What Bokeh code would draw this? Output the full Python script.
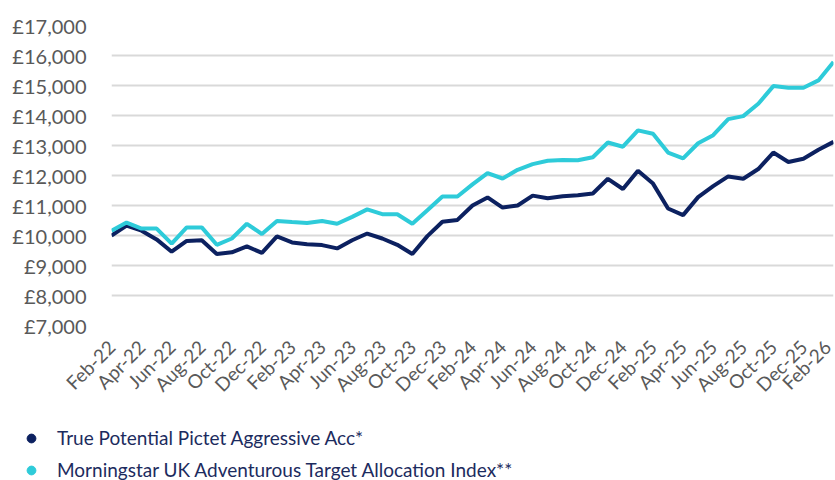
import math
from bokeh.plotting import figure
from bokeh.layouts import column
from bokeh.models import FixedTicker, Legend, LegendItem, Range1d
from bokeh.embed import file_html
from bokeh.resources import INLINE

months = ["Feb-22", "Mar-22", "Apr-22", "May-22", "Jun-22", "Jul-22", "Aug-22", "Sep-22", "Oct-22", "Nov-22", "Dec-22",
          "Jan-23", "Feb-23", "Mar-23", "Apr-23", "May-23", "Jun-23", "Jul-23", "Aug-23", "Sep-23", "Oct-23", "Nov-23", "Dec-23",
          "Jan-24", "Feb-24", "Mar-24", "Apr-24", "May-24", "Jun-24", "Jul-24", "Aug-24", "Sep-24", "Oct-24", "Nov-24", "Dec-24",
          "Jan-25", "Feb-25", "Mar-25", "Apr-25", "May-25", "Jun-25", "Jul-25", "Aug-25", "Sep-25", "Oct-25", "Nov-25", "Dec-25",
          "Jan-26", "Feb-26"]

fund = [10000, 10330, 10160, 9870, 9460, 9820, 9840, 9385, 9440, 9635, 9420, 9970, 9770, 9710, 9680, 9570, 9840,
        10065, 9900, 9690, 9385, 9980, 10460, 10520, 11000, 11270, 10930, 11000, 11330, 11240, 11310, 11340,
        11400, 11890, 11550, 12160, 11730, 10900, 10680, 11280, 11645, 11970, 11890, 12215, 12765, 12450, 12560, 12860, 13120]

benchmark = [10160, 10430, 10230, 10230, 9730, 10270, 10270, 9690, 9900, 10390, 10050, 10485, 10450, 10420, 10485, 10390, 10620,
             10870, 10710, 10710, 10390, 10840, 11300, 11300, 11705, 12080, 11900, 12190, 12380, 12490, 12520, 12510,
             12610, 13100, 12960, 13505, 13390, 12765, 12570, 13075, 13345, 13880, 13980, 14390, 14980, 14925, 14925, 15170, 15785]

series_names = ["True Potential Pictet Aggressive Acc*", "Morningstar UK Adventurous Target Allocation Index**"]
series_colors = ["#0c2160", "#2ecbd9"]

y_ticks = [7000, 8000, 9000, 10000, 11000, 12000, 13000, 14000, 15000, 16000, 17000]
y_tick_labels = ["£7,000", "£8,000", "£9,000", "£10,000", "£11,000", "£12,000", "£13,000", "£14,000", "£15,000", "£16,000", "£17,000"]

x = list(range(len(months)))
x_ticks = x[::2]

FONT = "Lato"

p = figure(width=835, height=406, output_backend="svg", toolbar_location=None,
           x_range=Range1d(0, len(months) - 1), y_range=Range1d(7000, 17000),
           min_border_left=111, min_border_right=2, min_border_top=25, min_border_bottom=72)
p.outline_line_color = None
p.background_fill_color = "white"
p.border_fill_color = "white"

p.xgrid.grid_line_color = None
p.ygrid.grid_line_color = "#d9d9d9"
p.ygrid.grid_line_width = 2
p.ygrid.ticker = FixedTicker(ticks=y_ticks)

p.yaxis.ticker = FixedTicker(ticks=y_ticks)
p.yaxis.major_label_overrides = {t: l for t, l in zip(y_ticks, y_tick_labels)}
p.xaxis.ticker = FixedTicker(ticks=x_ticks)
p.xaxis.major_label_overrides = {i: months[i] for i in x_ticks}
p.xaxis.major_label_orientation = math.pi / 4

for ax in (p.xaxis[0], p.yaxis[0]):
    ax.axis_line_color = None
    ax.major_tick_line_color = None
    ax.minor_tick_line_color = None
    ax.major_label_text_font = FONT
    ax.major_label_text_font_size = "19px"
    ax.major_label_text_color = "#595959"
p.yaxis.major_label_text_font_size = "20px"
p.yaxis.major_label_standoff = 19
p.xaxis.major_label_standoff = 12

p.line(x, fund, line_color=series_colors[0], line_width=4)
p.line(x, benchmark, line_color=series_colors[1], line_width=4)

# legend panel
lg = figure(width=835, height=74, output_backend="svg", toolbar_location=None,
            x_range=Range1d(0, len(months) - 1), y_range=Range1d(7000, 17000),
            x_axis_type=None, y_axis_type=None,
            min_border_left=0, min_border_right=0, min_border_top=0, min_border_bottom=0)
lg.outline_line_color = None
lg.xgrid.grid_line_color = None
lg.ygrid.grid_line_color = None

for fig in (p, lg):
    if "frame_align" in fig.properties():
        fig.frame_align = False

d1 = lg.scatter(x, fund, marker="circle", size=10, fill_color=series_colors[0], line_color=series_colors[0], visible=False)
d2 = lg.scatter(x, benchmark, marker="circle", size=10, fill_color=series_colors[1], line_color=series_colors[1], visible=False)

legend = Legend(items=[LegendItem(label=series_names[0], renderers=[d1]),
                       LegendItem(label=series_names[1], renderers=[d2])],
                location=(20, -1))
legend.label_text_font = FONT
legend.label_text_font_size = "19px"
legend.label_text_color = "#1c2b5e"
legend.glyph_width = 22
legend.glyph_height = 22
legend.label_height = 22
legend.spacing = 9
legend.label_standoff = 15
legend.padding = 0
legend.margin = 0
legend.border_line_color = None
legend.background_fill_alpha = 0
legend.inactive_fill_alpha = 0
lg.add_layout(legend, "center")

layout = column(p, lg, spacing=0)

open("out.html", "w").write(file_html(layout, INLINE))
